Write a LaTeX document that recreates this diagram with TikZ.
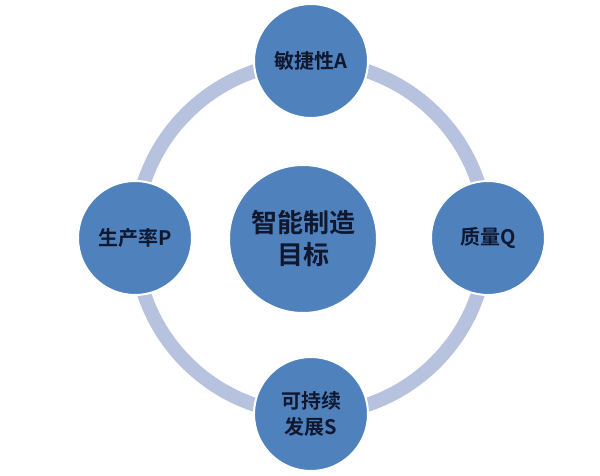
\documentclass[tikz,border=0pt]{standalone}
\usepackage{fontspec}
\newfontfamily\cjk{Noto Sans CJK SC}[BoldFont={Noto Sans CJK SC Bold}]
\definecolor{ringc}{RGB}{183,195,222}
\definecolor{ballc}{RGB}{79,129,189}
\definecolor{txtc}{RGB}{16,24,48}
\begin{document}
\begin{tikzpicture}[x=1pt,y=-1pt,
  ball/.style={circle,fill=ballc,draw=white,line width=2pt,minimum size=114pt,inner sep=0pt,
    font=\cjk\bfseries\fontsize{20}{26}\selectfont,text=txtc,align=center}]
\useasboundingbox (0,0) rectangle (600,476);
\fill[white] (0,0) rectangle (600,476);
\coordinate (o) at (311,238);
\draw[ringc,line width=14pt] (o) circle[radius=176];
\node[ball,minimum size=148pt,font=\cjk\bfseries\fontsize{26}{32}\selectfont] (c) at (303,239) {智能制造\\目标};
\node[ball] (a) at (311,61) {敏捷性A};
\node[ball] (q) at (488,238) {质量Q};
\node[ball] (p) at (135,238) {生产率P};
\node[ball] (s) at (311,414) {可持续\\发展S};
\end{tikzpicture}
\end{document}
